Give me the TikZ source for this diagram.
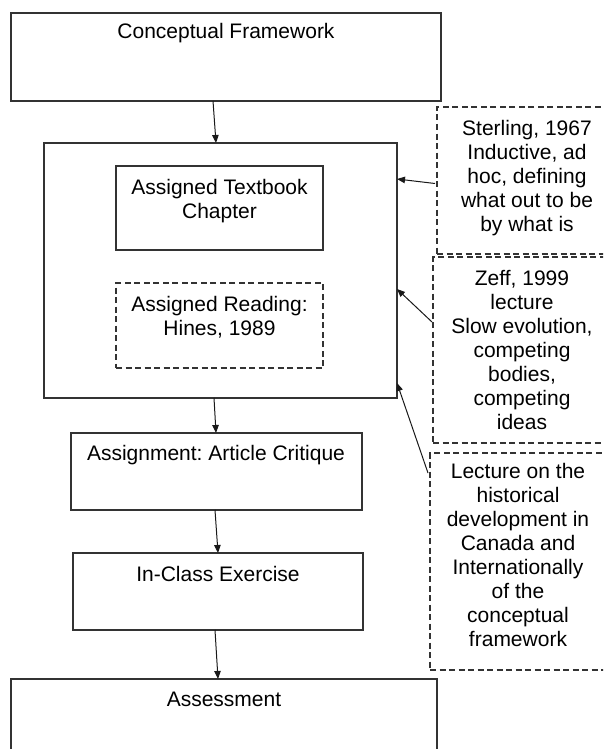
\documentclass[tikz,border=0pt]{standalone}
\usepackage{fontspec}
\setmainfont{Liberation Sans}
\usetikzlibrary{arrows.meta}
\frenchspacing
\tikzset{
  box/.style={draw=black!80, line width=1.2pt, rectangle, inner sep=0pt, outer sep=0pt},
  dbox/.style={box, dash pattern=on 6pt off 3.5pt},
  arr/.style={draw=black!90, line width=1pt, -{Triangle[length=8pt,width=6.5pt]}},
  txt/.style={font=\fontsize{21}{24}\selectfont, align=center, inner sep=0pt, text=black}
}
\begin{document}
\begin{tikzpicture}[x=1pt,y=-1pt]
\useasboundingbox (0,0) rectangle (603,749);
\clip (0,0) rectangle (603,749);
% main column
\node[box, minimum width=430pt, minimum height=88pt] (cf) at (226,57) {};
\node[txt, anchor=base] (cft) at (226,39) {Conceptual Framework};
\node[box, minimum width=353pt, minimum height=255pt] (big) at (220.5,270.5) {};
\node[box, minimum width=207pt, minimum height=84pt] (tb) at (219.5,208) {};
\node[txt, anchor=north] (tbt) at (219.5,177.2) {\strut Assigned Textbook\\Chapter};
\node[dbox, minimum width=207pt, minimum height=85pt] (rd) at (219.5,325.5) {};
\node[txt, anchor=north] (rdt) at (219.5,294.2) {\strut Assigned Reading:\\Hines, 1989};
\node[box, minimum width=291pt, minimum height=77pt] (asg) at (216.5,471.5) {};
\node[txt, anchor=base] (asgt) at (216,460) {Assignment: Article Critique};
\node[box, minimum width=290pt, minimum height=77pt] (ice) at (218,591.5) {};
\node[txt, anchor=base] (icet) at (218,581) {In-Class Exercise};
\node[box, minimum width=426pt, minimum height=121pt] (ass) at (224,739.5) {};
\node[txt, anchor=base] (asst) at (224,706) {Assessment};
% side boxes
\node[dbox, minimum width=203pt, minimum height=147pt] (st) at (538.5,180.5) {};
\node[txt, anchor=north] (stt) at (527,118.2) {\strut Sterling, 1967\\Inductive, ad\\hoc, defining\\what out to be\\by what is};
\node[dbox, minimum width=207pt, minimum height=186pt] (zf) at (536.5,350) {};
\node[txt, anchor=north] (zft) at (522,268.2) {\strut Zeff, 1999\\lecture\\Slow evolution,\\competing\\bodies,\\competing\\ideas};
\node[dbox, minimum width=210pt, minimum height=217pt] (lc) at (535,561.5) {};
\node[txt, anchor=north] (lct) at (518,461.2) {\strut Lecture on the\\historical\\development in\\Canada and\\Internationally\\of the\\conceptual\\framework};
% connectors
\draw[arr] ([xshift=-13pt]cf.south) -- ([xshift=-4.5pt]big.north);
\draw[arr] ([xshift=-6.5pt]big.south) -- ([xshift=-0.5pt]asg.north);
\draw[arr] ([xshift=-1.5pt]asg.south) -- (ice.north);
\draw[arr] ([xshift=-3pt]ice.south) -- ([xshift=-6pt]ass.north);
\draw[arr] ([xshift=-2pt,yshift=-3pt]st.west) -- ([yshift=91.5pt]big.east);
\draw[arr] ([xshift=-1pt,yshift=28pt]zf.west) -- ([yshift=-18.5pt]big.east);
\draw[arr] ([xshift=-2pt,yshift=88.5pt]lc.west) -- ([yshift=-112.5pt]big.east);
\end{tikzpicture}
\end{document}
